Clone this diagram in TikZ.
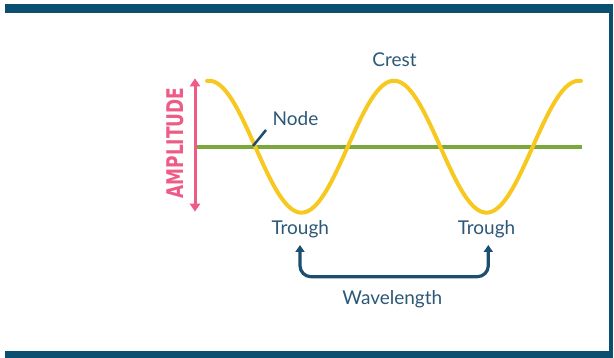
\documentclass[tikz,border=0pt]{standalone}
\usepackage{fontspec}
\setmainfont{Lato}
\newfontfamily\ampfont{DejaVu Sans Bold}
\usetikzlibrary{arrows.meta}
\definecolor{frameblue}{HTML}{0B4F70}
\definecolor{txtblue}{HTML}{2C5878}
\definecolor{lineblue}{HTML}{1B4E70}
\definecolor{wavey}{HTML}{F7C820}
\definecolor{baseg}{HTML}{7BA83B}
\definecolor{ampp}{HTML}{EE5B87}
\tikzset{
  lbl/.style={text=txtblue, font=\fontsize{19}{19}\selectfont, inner sep=0pt, anchor=base},
  framebar/.style={fill=frameblue, draw=none},
}
\begin{document}
\begin{tikzpicture}[x=1pt,y=-1pt]
\useasboundingbox (0,0) rectangle (614,358);
% frame
\fill[framebar] (4.7,4) rectangle (613,12.7);
\fill[framebar] (609.3,4) rectangle (613,358);
\fill[framebar] (4.7,350.7) rectangle (613,358);
% baseline
\coordinate (gl) at (196.7,146.8);
\coordinate (gr) at (582,146.8);
\draw[baseg, line width=4pt] (gl) -- (gr);
% wave
\draw[wavey, line width=4pt, line cap=round, smooth, samples=120, domain=207:581]
  plot (\x, {146.7-66*cos((\x-209)*1.945946)});
% amplitude arrow
\coordinate (at) at (195,78.3);
\coordinate (ab) at (195,211.7);
\draw[ampp, line width=3pt, {Triangle[width=10pt,length=8pt]}-{Triangle[width=10pt,length=8pt]}] (at) -- (ab);
\node[ampp, rotate=90, inner sep=0pt, font=\ampfont\fontsize{23}{23}\selectfont] (amp) at (175.7,143) {\scalebox{0.74}[1]{AMPLITUDE}};
% labels
\node[lbl] (crest) at (394.5,66.7) {Crest};
\node[lbl] (node) at (295.5,125.7) {Node};
\node[lbl] (tr1) at (300.3,234.3) {Trough};
\node[lbl] (tr2) at (486.5,235) {Trough};
\node[lbl] (wl) at (392.3,304.3) {Wavelength};
% node leader
\coordinate (np) at (253,146);
\coordinate (nq) at (266,130);
\draw[lineblue, line width=2.5pt] (np) -- (nq);
% wavelength bracket
\coordinate (w1) at (300,245);
\coordinate (w2) at (488.3,245);
\draw[lineblue, line width=3.2pt, rounded corners=11pt, {Triangle[width=9pt,length=7pt]}-{Triangle[width=9pt,length=7pt]}] (w1) -- (300,276.7) -- (488.3,276.7) -- (w2);
\end{tikzpicture}
\end{document}
